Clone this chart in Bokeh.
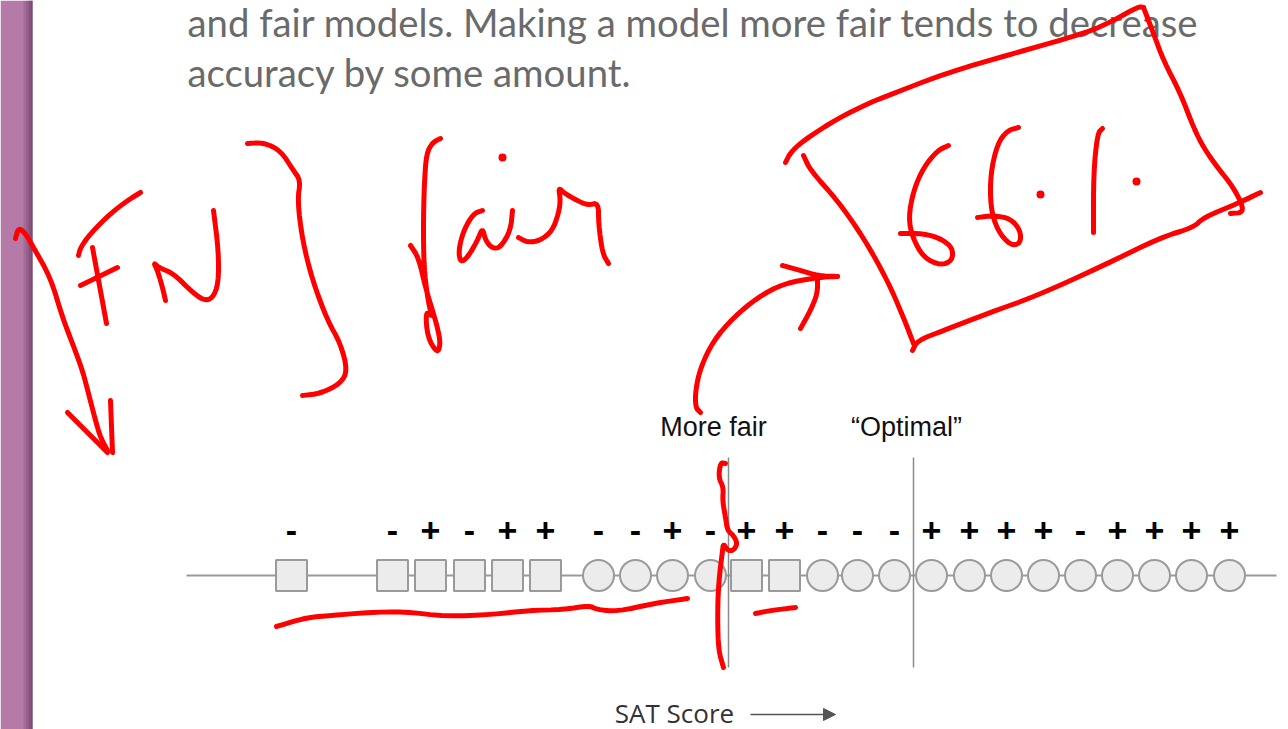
from bokeh.plotting import figure
from bokeh.models import Range1d, ColumnDataSource, Arrow, NormalHead
from bokeh.core.properties import value
from bokeh.embed import file_html
from bokeh.resources import INLINE

# ---------------- data ----------------
sat_pos = [291, 392, 430, 469, 507, 545, 598, 635, 672, 710, 746, 784,
           822, 857, 894, 931, 969, 1006, 1043, 1080, 1117, 1154, 1191, 1229]
shapes = ["square"] * 6 + ["circle"] * 4 + ["square"] * 2 + ["circle"] * 12
labels = ["-", "-", "+", "-", "+", "+", "-", "-", "+", "-", "+", "+",
          "-", "-", "-", "+", "+", "+", "+", "-", "+", "+", "+", "+"]
thresholds = [728, 913]
threshold_labels = ["More fair", "\u201cOptimal\u201d"]
threshold_label_x = [713, 906]
axis_span = [186, 1276]
intro_lines = ["and fair models. Making a model more fair tends to decrease",
               "accuracy by some amount."]
xlabel = "SAT Score"

# handwritten red annotation strokes (x list, y list)
stroke_arrow_shaft = ([15, 18, 25, 33, 50, 62, 72, 82, 88, 95, 100, 107],
                      [238, 227, 233, 247, 277, 317, 343, 370, 393, 420, 437, 450])
stroke_arrow_l = ([67, 107], [412, 452])
stroke_arrow_r = ([110, 112], [400, 452])
stroke_F_top = ([78, 80, 90, 110, 127, 140], [255, 247, 233, 213, 200, 192])
stroke_F_vert = ([92, 106], [247, 323])
stroke_F_bar = ([80, 117], [285, 267])
stroke_N = ([165, 162, 157, 153, 158, 173, 190, 203, 212, 218, 218, 213],
            [300, 287, 270, 262, 267, 273, 290, 300, 298, 283, 250, 210])
stroke_brace = ([247, 263, 280, 293, 300, 297, 302, 312, 327, 340, 347, 340, 320, 302],
                [143, 142, 150, 170, 180, 200, 240, 280, 320, 343, 370, 383, 393, 395])
stroke_f = ([440, 432, 426, 424, 423, 423, 424, 428, 432, 425, 427, 437, 440, 437, 432, 425, 418, 410],
            [138, 142, 153, 180, 213, 247, 273, 303, 317, 310, 337, 353, 343, 327, 310, 287, 257, 245])
stroke_a = ([482, 473, 463, 458, 460, 467, 477, 482, 485, 492, 500, 510, 512],
            [210, 213, 230, 250, 262, 257, 240, 227, 240, 248, 247, 230, 210])
stroke_r = ([518, 527, 540, 552, 558, 560, 558, 563, 573, 587, 598, 598, 602, 608],
            [237, 242, 240, 230, 213, 200, 187, 192, 198, 205, 202, 223, 253, 263])
stroke_box_top = ([785, 790, 803, 837, 870, 880, 947, 1013, 1087, 1113, 1138, 1143],
                  [162, 152, 140, 118, 102, 98, 72, 53, 32, 20, 6, 7])
stroke_box_right = ([1143, 1153, 1163, 1180, 1193, 1203, 1217, 1230, 1240, 1243, 1230],
                    [7, 33, 60, 93, 127, 147, 167, 183, 200, 212, 213])
stroke_box_left = ([803, 810, 837, 863, 887, 903, 913],
                   [155, 170, 200, 237, 280, 317, 343])
stroke_box_bottom = ([912, 917, 943, 987, 1037, 1103, 1160, 1193, 1203, 1237, 1260],
                     [350, 340, 330, 313, 295, 265, 237, 227, 217, 203, 192])
stroke_six1 = ([948, 937, 923, 913, 908, 912, 923, 940, 952, 952, 940, 923, 900],
               [145, 150, 167, 190, 217, 237, 257, 265, 260, 247, 238, 233, 233])
stroke_six2 = ([1018, 1007, 997, 990, 990, 997, 1010, 1020, 1020, 1010, 993, 977],
               [127, 130, 143, 173, 207, 230, 245, 243, 230, 218, 215, 217])
stroke_one = ([1102, 1097, 1093, 1093], [128, 133, 173, 232])
stroke_curve = ([700, 695, 695, 700, 713, 733, 757, 783, 817, 837],
                [412, 407, 390, 367, 340, 317, 297, 283, 277, 276])
stroke_curve_head1 = ([782, 800, 817, 837], [265, 270, 275, 276])
stroke_curve_head2 = ([817, 817, 810, 800], [277, 293, 310, 328])
stroke_vertical = ([725, 720, 718, 723, 722, 725, 727, 733, 737, 733, 727, 723, 722, 718, 717, 718, 723],
                   [463, 462, 477, 487, 500, 517, 530, 535, 543, 550, 550, 543, 550, 583, 617, 650, 667])
stroke_dash = ([755, 770, 795], [613, 610, 607])
stroke_underline = ([276, 306, 331, 367, 403, 446, 492, 528, 564, 589, 596, 617, 653, 687],
                    [626, 617, 615, 612, 611, 616, 614, 610, 609, 605, 609, 611, 603, 598])
red_dots_x = [502, 1040, 1136]
red_dots_y = [157, 194, 181]

strokes = [stroke_arrow_shaft, stroke_arrow_l, stroke_arrow_r, stroke_F_top, stroke_F_vert,
           stroke_F_bar, stroke_N, stroke_brace, stroke_f, stroke_a, stroke_r,
           stroke_box_top, stroke_box_right, stroke_box_left, stroke_box_bottom,
           stroke_six1, stroke_six2, stroke_one, stroke_curve, stroke_curve_head1,
           stroke_curve_head2, stroke_vertical, stroke_dash, stroke_underline]


def pen_smooth(xs, ys, rounds=2):
    """Chaikin corner rounding, so the pen strokes look hand drawn (endpoints kept)."""
    pts = list(zip(xs, ys))
    for _ in range(rounds):
        if len(pts) < 3:
            break
        out = [pts[0]]
        for (x0, y0), (x1, y1) in zip(pts[:-1], pts[1:]):
            out.append((0.75 * x0 + 0.25 * x1, 0.75 * y0 + 0.25 * y1))
            out.append((0.25 * x0 + 0.75 * x1, 0.25 * y0 + 0.75 * y1))
        out.append(pts[-1])
        pts = out
    return [q[0] for q in pts], [q[1] for q in pts]


smoothed = [pen_smooth(*s) for s in strokes]

# ---------------- figure ----------------
W, H = 1288, 729
p = figure(width=W, height=H, x_range=Range1d(0, W), y_range=Range1d(H, 0),
           output_backend="svg", toolbar_location=None, min_border=0)
p.axis.visible = False
p.grid.visible = False
p.outline_line_color = None
p.background_fill_color = "white"
p.border_fill_color = "white"

# purple sidebar: base colour plus a darkening right edge
p.quad(left=[0], right=[32], top=[0], bottom=[H], fill_color="#b57aa8", line_color=None)
edge_left = [23, 26, 28.5, 30.5]
edge_right = [32, 32, 32, 32]
edge_alpha = [0.25, 0.3, 0.35, 0.4]
p.quad(left=edge_left, right=edge_right, top=[0] * 4, bottom=[H] * 4,
       fill_color="#6e3f66", fill_alpha=edge_alpha, line_color=None)

# intro text
p.text(x=[187, 187], y=[21, 71], text=intro_lines, text_font=value("Lato"),
       text_font_size="38.3px", text_color="#6a6a6a", text_baseline="alphabetic",
       text_align="left")

# axis line
p.line(x=axis_span, y=[575, 575], line_color="#9a9a9a", line_width=2)

# threshold lines
p.segment(x0=thresholds, x1=thresholds, y0=[457] * 2, y1=[667] * 2,
          line_color="#8a8a8a", line_width=1.5)
p.text(x=threshold_label_x, y=[426] * 2, text=threshold_labels,
       text_font=value("Liberation Sans"), text_font_size="27px",
       text_color="#111111", text_align="center", text_baseline="middle")

# points
src = ColumnDataSource(dict(x=sat_pos, y=[575] * len(sat_pos), ly=[530] * len(sat_pos),
                            marker=shapes, lab=labels))
p.scatter(x="x", y="y", marker="marker", size=31, source=src,
          fill_color="#ececec", line_color="#9a9a9a", line_width=2)
p.text(x="x", y="ly", text="lab", source=src,
       text_font=value("Liberation Sans"), text_font_style="bold",
       text_font_size="34px", text_color="#000000", text_align="center",
       text_baseline="middle")

# x label + arrow
p.text(x=[674], y=[712], text=[xlabel], text_font=value("Open Sans"),
       text_font_size="26px", text_color="#333333", text_align="center",
       text_baseline="middle")
p.add_layout(Arrow(end=NormalHead(size=12, fill_color="#555555", line_color="#555555"),
                   x_start=750, y_start=714, x_end=835, y_end=714,
                   line_color="#555555", line_width=1.5))

# red handwriting
p.multi_line(xs=[s[0] for s in smoothed], ys=[s[1] for s in smoothed],
             line_color="#ff0000", line_width=5, line_cap="round", line_join="round")
p.scatter(x=red_dots_x, y=red_dots_y, size=8, fill_color="#ff0000", line_color=None)

open("out.html", "w").write(file_html(p, INLINE))
